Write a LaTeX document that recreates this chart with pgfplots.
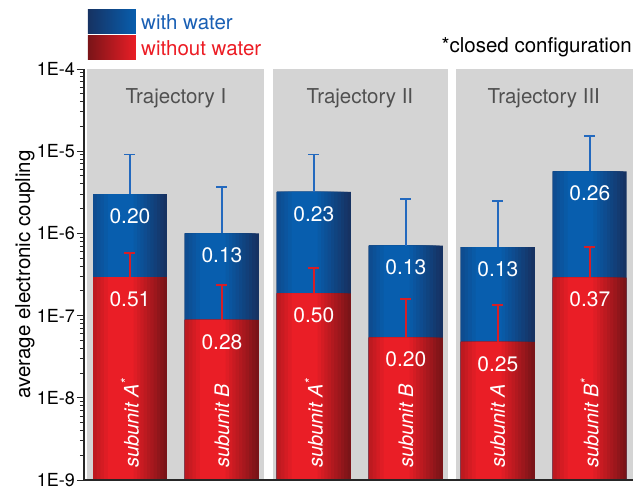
\documentclass[border=0pt]{standalone}
\usepackage{pgfplots}
\pgfplotsset{compat=1.18}
\usepackage{pgfplotstable}
\usepackage{fontspec}
\setmainfont{TeX Gyre Heros}
\definecolor{bdark}{RGB}{22,50,98}
\definecolor{bbright}{RGB}{8,94,174}
\definecolor{rdark}{RGB}{122,20,24}
\definecolor{rbright}{RGB}{234,30,38}
\definecolor{panel}{RGB}{212,212,212}
\definecolor{berr}{RGB}{35,105,190}
\definecolor{rerr}{RGB}{215,30,38}
\definecolor{legblue}{RGB}{25,95,180}
\definecolor{legred}{RGB}{236,28,36}
\definecolor{trajgray}{RGB}{80,80,80}

\pgfplotstableread{
x y e
0 3.0e-6 6.1e-6
1 1.0e-6 2.7e-6
2 3.2e-6 5.9e-6
3 7.1e-7 1.94e-6
4 6.8e-7 1.82e-6
5 5.7e-6 9.7e-6
}\withwater
\pgfplotstableread{
x y e
0 2.93e-7 2.87e-7
1 8.9e-8 1.45e-7
2 1.86e-7 1.94e-7
3 5.4e-8 1.06e-7
4 4.8e-8 8.7e-8
5 2.9e-7 3.9e-7
}\withoutwater

% one layer of a horizontally graded bar: width, shift, fill, table
\newcommand{\gbar}[4]{%
\addplot[ybar, bar width=#1, bar shift=#2, draw=none, fill=#3, forget plot] table[x=x,y=y] {#4};}
\newcommand{\gradbars}[3]{% bright, dark, table
\gbar{0.804}{0}{#1!0!#2}{#3}
\gbar{0.768}{-0.0181}{#1!10!#2}{#3}
\gbar{0.7316}{-0.0362}{#1!20!#2}{#3}
\gbar{0.6955}{-0.0543}{#1!30!#2}{#3}
\gbar{0.6593}{-0.0724}{#1!40!#2}{#3}
\gbar{0.6231}{-0.0905}{#1!50!#2}{#3}
\gbar{0.5869}{-0.1085}{#1!60!#2}{#3}
\gbar{0.5105}{-0.1065}{#1!70!#2}{#3}
\gbar{0.4342}{-0.1045}{#1!80!#2}{#3}
\gbar{0.3578}{-0.1025}{#1!90!#2}{#3}
\gbar{0.2814}{-0.1005}{#1!100!#2}{#3}
}

\begin{document}
\begin{tikzpicture}
\useasboundingbox (-84pt,-11pt) rectangle (549pt,480pt);
\begin{axis}[
  at={(0,0)}, anchor=south west,
  scale only axis, width=549pt, height=411pt,
  ymode=log, ymin=1e-9, ymax=1e-4, log origin=infty,
  xmin=-0.5, xmax=5.47,
  axis x line=bottom, axis y line=left,
  axis line style={-, line width=1.2pt, black!85},
  xtick=\empty,
  ytick={1e-9,1e-8,1e-7,1e-6,1e-5,1e-4},
  yticklabels={1E-9,1E-8,1E-7,1E-6,1E-5,1E-4},
  minor ytick={2e-9,3e-9,4e-9,5e-9,6e-9,7e-9,8e-9,9e-9,
               2e-8,3e-8,4e-8,5e-8,6e-8,7e-8,8e-8,9e-8,
               2e-7,3e-7,4e-7,5e-7,6e-7,7e-7,8e-7,9e-7,
               2e-6,3e-6,4e-6,5e-6,6e-6,7e-6,8e-6,9e-6,
               2e-5,3e-5,4e-5,5e-5,6e-5,7e-5,8e-5,9e-5},
  tick align=outside,
  major tick length=7pt, minor tick length=4pt,
  every tick/.style={black!85, line width=1pt},
  yticklabel style={font=\fontsize{18}{18}\selectfont, inner sep=0.5pt, xshift=-1.5pt},
  ylabel={average electronic coupling},
  every axis y label/.style={at={(axis description cs:-0.1075,0.5)}, rotate=90, anchor=center, font=\fontsize{20.5}{20.5}\selectfont},
  axis on top,
]
\fill[panel] (axis cs:-0.467,1e-9) rectangle (axis cs:1.457,1e-4);
\fill[panel] (axis cs:1.554,1e-9) rectangle (axis cs:3.457,1e-4);
\fill[panel] (axis cs:3.543,1e-9) rectangle (axis cs:5.47,1e-4);

% with water (blue)
\gradbars{bbright}{bdark}{\withwater}
\addplot[ybar, bar width=0.804, bar shift=0pt, draw=none, fill=none,
  error bars/.cd, y dir=plus, y explicit,
  error bar style={berr, line width=1.8pt},
  error mark options={berr, line width=1.8pt, mark size=5.5pt, rotate=90}]
  table[x=x, y=y, y error plus=e] {\withwater};

% without water (red)
\gradbars{rbright}{rdark}{\withoutwater}
\addplot[ybar, bar width=0.804, bar shift=0pt, draw=none, fill=none,
  error bars/.cd, y dir=plus, y explicit,
  error bar style={rerr, line width=1.8pt},
  error mark options={rerr, line width=1.8pt, mark size=5.5pt, rotate=90}]
  table[x=x, y=y, y error plus=e] {\withoutwater};

\begin{scope}[every node/.style={white, font=\fontsize{21}{21}\selectfont, inner sep=0pt, anchor=center, yshift=-22pt}]
\node at (axis cs:0,3.0e-6) {0.20};
\node at (axis cs:1,1.0e-6) {0.13};
\node at (axis cs:2,3.2e-6) {0.23};
\node at (axis cs:3,7.1e-7) {0.13};
\node at (axis cs:4,6.8e-7) {0.13};
\node at (axis cs:5,5.7e-6) {0.26};
\node at (axis cs:0,2.93e-7) {0.51};
\node at (axis cs:1,8.9e-8) {0.28};
\node at (axis cs:2,1.86e-7) {0.50};
\node at (axis cs:3,5.4e-8) {0.20};
\node at (axis cs:4,4.8e-8) {0.25};
\node at (axis cs:5,2.9e-7) {0.37};
\end{scope}

\begin{scope}[every node/.style={white, font=\fontsize{20}{20}\selectfont\itshape, inner sep=0pt, yshift=12pt, rotate=90, anchor=west}]
\node at (axis cs:0,1e-9) {subunit A\textsuperscript{*}};
\node at (axis cs:1,1e-9) {subunit B};
\node at (axis cs:2,1e-9) {subunit A\textsuperscript{*}};
\node at (axis cs:3,1e-9) {subunit B};
\node at (axis cs:4,1e-9) {subunit A};
\node at (axis cs:5,1e-9) {subunit B\textsuperscript{*}};
\end{scope}

\begin{scope}[every node/.style={trajgray, font=\fontsize{20.5}{20.5}\selectfont, anchor=center}]
\node at (axis cs:0.5,4.4e-5) {Trajectory I};
\node at (axis cs:2.5,4.4e-5) {Trajectory II};
\node at (axis cs:4.5,4.4e-5) {Trajectory III};
\end{scope}
\end{axis}

\shade[left color=bdark, right color=bbright] (4pt,446pt) rectangle (52pt,470pt);
\shade[left color=rdark, right color=rbright] (4pt,420pt) rectangle (52pt,444pt);
\node[anchor=west, inner sep=0pt, legblue, font=\fontsize{20.5}{20.5}\selectfont] at (57pt,458pt) {with water};
\node[anchor=west, inner sep=0pt, legred, font=\fontsize{20.5}{20.5}\selectfont] at (57pt,432pt) {without water};
\node[anchor=east, inner sep=0pt, font=\fontsize{20.5}{20.5}\selectfont] at (548pt,433pt) {*closed configuration};
\end{tikzpicture}
\end{document}
